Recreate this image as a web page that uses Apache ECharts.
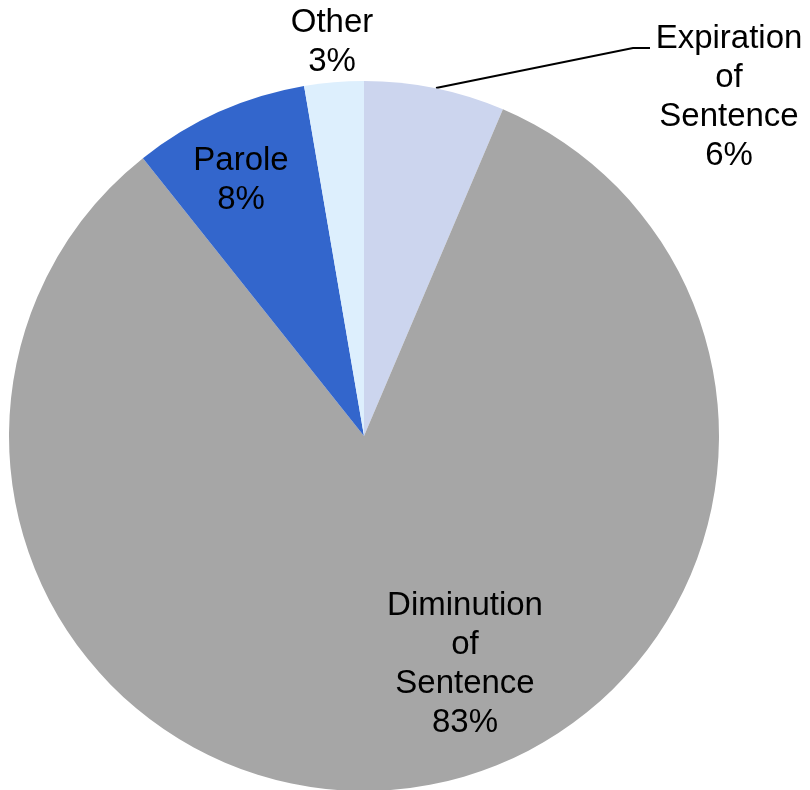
<!DOCTYPE html>
<html>
<head>
<meta charset="utf-8">
<script src="https://cdn.jsdelivr.net/npm/echarts@6/dist/echarts.min.js"></script>
<style>
html,body{margin:0;padding:0;background:#fff;}
#chart{width:810px;height:790px;}
</style>
</head>
<body>
<div id="chart"></div>
<script>
// Data (clockwise from 12 o'clock)
const categories = ['Expiration of Sentence', 'Diminution of Sentence', 'Parole', 'Other'];
const labelNames = ['Expiration\nof\nSentence', 'Diminution\nof\nSentence', 'Parole', 'Other'];
const values = [6.4, 82.9, 8.0, 2.7];
const colors = ['#CCD5EE', '#A6A6A6', '#3366CC', '#DDEFFD'];

// label placement (style/layout)
const labelPos = [
  {x: 729, y: 97},
  {x: 465, y: 664},
  {x: 241, y: 180},
  {x: 332, y: 42}
];

const chart = echarts.init(document.getElementById('chart'), null, {renderer: 'canvas'});
chart.setOption({
  backgroundColor: '#fff',
  animation: false,
  series: [{
    type: 'pie',
    center: [364, 436],
    radius: [0, 355],
    startAngle: 90,
    clockwise: true,
    percentPrecision: 0,
    avoidLabelOverlap: false,
    data: categories.map((c, i) => ({
      name: c,
      value: values[i],
      itemStyle: {color: colors[i]},
      label: {position: i === 0 ? 'outside' : 'inside'},
      labelLine: {show: i === 0}
    })),
    itemStyle: {borderWidth: 0},
    label: {
      show: true,
      color: '#000',
      fontFamily: 'Liberation Sans, Arial, sans-serif',
      fontSize: 33,
      lineHeight: 39,
      align: 'center',
      formatter: p => labelNames[p.dataIndex] + '\n' + p.percent + '%'
    },
    labelLine: {
      lineStyle: {color: '#000', width: 2}
    },
    labelLayout: function (params) {
      const i = params.dataIndex;
      const res = {
        x: labelPos[i].x,
        y: labelPos[i].y,
        align: 'center',
        verticalAlign: 'middle'
      };
      if (i === 0) {
        res.labelLinePoints = [[436, 88], [633, 48], [650, 48]];
      }
      return res;
    }
  }]
});
</script>
</body>
</html>
